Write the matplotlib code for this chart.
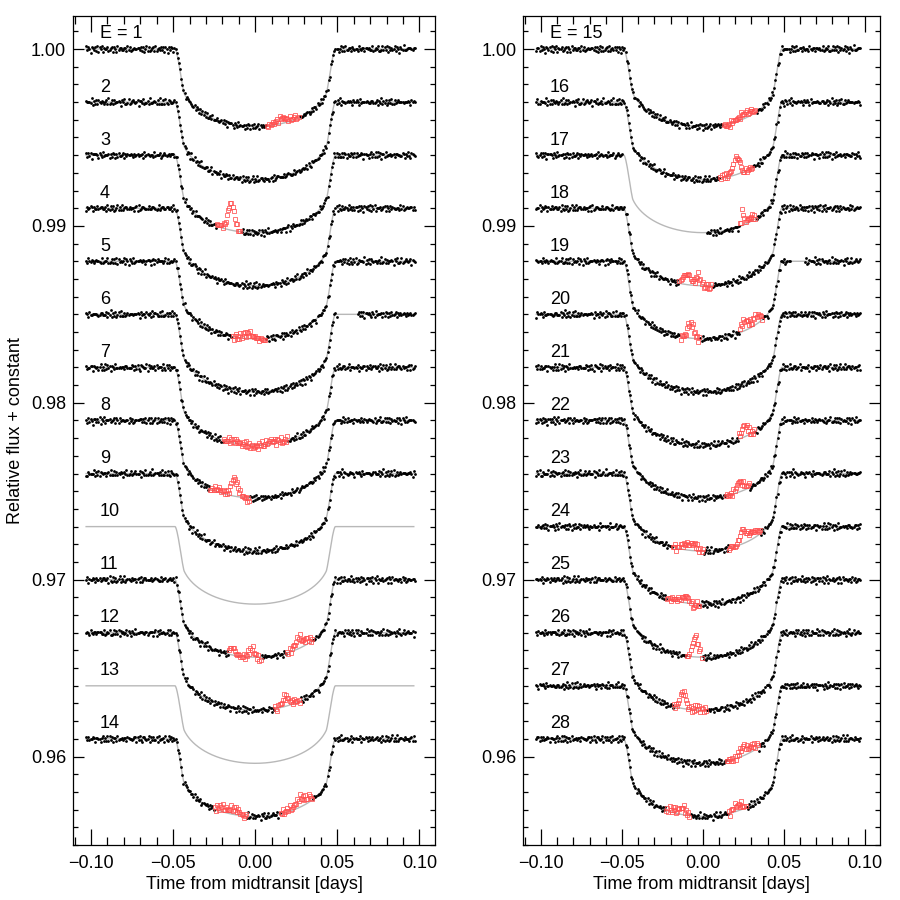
import numpy as np
import matplotlib
matplotlib.use("Agg")
import matplotlib.pyplot as plt
from matplotlib.ticker import MultipleLocator

# ---------------- data ----------------
epochs = list(range(1, 29))
offset_step = 0.003            # vertical offset between consecutive transits
rp_rs = 0.0590                 # planet/star radius ratio (depth ~0.0044)
impact = 0.10
t_contact = 0.0488             # first/last contact [days]
ld_u1, ld_u2 = 0.60, 0.05      # limb darkening
cadence = 0.000681             # days (short cadence)
t_first, t_last = -0.1030, 0.0976

no_data_epochs = [10, 13]
kept_ranges = {17: [(-0.2, -0.0495), (0.0023, 0.2)]}
gap_ranges = {6: [(0.050, 0.062)], 19: [(0.054, 0.0625)]}

# spot-crossing windows (red squares)
spot_windows = {
    1: [(0.0071, 0.0270)],
    3: [(-0.0235, -0.0090)],
    5: [(-0.0142, 0.0061)],
    7: [(-0.0195, 0.0201)],
    8: [(-0.0275, -0.0030)],
    11: [(-0.0165, 0.0035), (0.0195, 0.0346)],
    12: [(0.0120, 0.0274)],
    14: [(-0.0250, -0.0050), (0.0152, 0.0350)],
    15: [(0.0125, 0.0329)],
    16: [(0.0105, 0.0310)],
    17: [(0.0225, 0.0330)],
    18: [(-0.0150, 0.0054)],
    19: [(-0.0139, -0.0017), (0.0227, 0.0369)],
    21: [(0.0217, 0.0319)],
    22: [(0.0136, 0.0288)],
    23: [(-0.0190, 0.0003), (0.0156, 0.0359)],
    24: [(-0.0221, -0.0017)],
    25: [(-0.0099, -0.0007)],
    26: [(-0.0180, 0.0023)],
    27: [(0.0145, 0.0339)],
    28: [(-0.0231, -0.0078), (0.0156, 0.0267)],
}
# spot anomalies: (centre [d], amplitude [flux], width [d])
spot_bumps = {
    1: [(0.0160, 0.00030, 0.0035), (0.0245, 0.00012, 0.0015)],
    3: [(-0.0148, 0.00150, 0.0020), (-0.0215, 0.00012, 0.0015)],
    5: [(-0.0045, 0.00028, 0.0030), (0.0040, -0.00010, 0.0015)],
    7: [(-0.0130, 0.00012, 0.0030), (-0.0010, -0.00012, 0.0020), (0.0110, 0.00015, 0.0040)],
    8: [(-0.0127, 0.00100, 0.0020), (-0.0220, 0.00018, 0.0025), (-0.0045, -0.00008, 0.0012)],
    11: [(-0.0140, 0.00040, 0.0018), (-0.0020, 0.00050, 0.0015), (0.0020, -0.00012, 0.0012),
         (0.0264, 0.00060, 0.0022), (0.0315, 0.00025, 0.0015)],
    12: [(0.0183, 0.00055, 0.0020), (0.0240, 0.00010, 0.0020)],
    14: [(-0.0200, 0.00025, 0.0025), (-0.0128, 0.00035, 0.0025), (0.0200, 0.00012, 0.0020),
         (0.0274, 0.00055, 0.0025), (0.0325, 0.00030, 0.0015)],
    15: [(0.0155, -0.00010, 0.0015), (0.0265, 0.00030, 0.0045)],
    16: [(0.0207, 0.00100, 0.0020), (0.0125, 0.00010, 0.0020)],
    17: [(0.0245, 0.00085, 0.0006), (0.0290, 0.00025, 0.0025)],
    18: [(-0.0100, 0.00060, 0.0025), (-0.0030, 0.00050, 0.0015), (0.0035, -0.00010, 0.0012)],
    19: [(-0.0078, 0.00085, 0.0018), (0.0260, 0.00055, 0.0025), (0.0335, 0.00050, 0.0020)],
    21: [(0.0258, 0.00065, 0.0018)],
    22: [(0.0227, 0.00060, 0.0020), (0.0275, 0.00015, 0.0015)],
    23: [(-0.0100, 0.00035, 0.0030), (-0.0050, 0.00030, 0.0015), (0.0247, 0.00075, 0.0020),
         (0.0310, 0.00040, 0.0030)],
    24: [(-0.0109, 0.00035, 0.0022), (-0.0058, -0.00015, 0.0012), (-0.0170, 0.00010, 0.0020)],
    25: [(-0.0048, 0.00115, 0.0018)],
    26: [(-0.0123, 0.00095, 0.0018), (-0.0030, 0.00012, 0.0020)],
    27: [(0.0247, 0.00050, 0.0022), (0.0305, 0.00030, 0.0025)],
    28: [(-0.0127, 0.00040, 0.0020), (-0.0190, 0.00015, 0.0025), (0.0207, 0.00035, 0.0020),
         (0.0245, 0.00015, 0.0015)],
}
# point-to-point scatter pattern (units of 1e-5 flux)
scatter_a = [3, -8, 12, -2, -11, 6, 0, 9, -5, -13, 4, 10, -7, 2, -3, 14, -9, 5, -1,
             8, -12, 1, 7, -6, 11, -4, -10, 6, 3, -8, 13, -2, -7, 9, -1, 4, -5]
scatter_b = [-5, 7, -2, 9, -8, 1, 4, -10, 6, -3, 0, 8, -6, 3, -9, 5, -1, 10, -4, 2,
             -7, 6, -2]

# ---------------- transit model ----------------
_g = np.linspace(-1, 1, 31)
_gx, _gy = np.meshgrid(_g, _g)
_inside = _gx**2 + _gy**2 <= 1
_dx, _dy = _gx[_inside], _gy[_inside]
_mean_I = 1 - ld_u1 / 3 - ld_u2 / 6
_speed = np.sqrt((1 + rp_rs) ** 2 - impact ** 2) / t_contact


def transit(t):
    t = np.atleast_1d(t)
    px = (_speed * t)[:, None] + rp_rs * _dx[None, :]
    py = impact + rp_rs * _dy[None, :]
    r2 = px ** 2 + py ** 2
    mu = np.sqrt(np.clip(1 - r2, 0, None))
    inten = np.where(r2 < 1, 1 - ld_u1 * (1 - mu) - ld_u2 * (1 - mu) ** 2, 0.0)
    return 1 - rp_rs ** 2 * inten.mean(axis=1) / _mean_I


# ---------------- figure ----------------
plt.rcParams["font.family"] = ["Liberation Sans", "DejaVu Sans"]
plt.rcParams["font.size"] = 13
plt.rcParams["axes.linewidth"] = 0.9

fig = plt.figure(figsize=(9, 9), dpi=100)
axL = fig.add_axes([0.0811, 0.0611, 0.4022, 0.9214])
axR = fig.add_axes([0.5815, 0.0611, 0.3963, 0.9214])
axes = [axL, axR]

t_data = np.arange(t_first, t_last, cadence)
t_line = np.linspace(t_first, t_last - 0.001, 800)
model_data = transit(t_data)
model_line = transit(t_line)

na, nb = len(scatter_a), len(scatter_b)
grey = "#b8b8b8"
red = "#ff5050"

for k in epochs:
    ax = axes[0] if k <= 14 else axes[1]
    idx = (k - 1) % 14
    base = 1.0 - offset_step * idx
    ax.plot(t_line, base + model_line - 1, color=grey, lw=1.0, zorder=1)
    label = f"E = {k}" if idx == 0 else str(k)
    ax.text(-0.0945, base + 0.00085, label, ha="left", va="center", fontsize=13)
    if k in no_data_epochs:
        continue
    j = np.arange(len(t_data))
    noise = np.array([scatter_a[(i + 5 * k) % na] + scatter_b[(i + 3 * k) % nb]
                      for i in j]) * 1e-5
    bump = np.zeros_like(t_data)
    for (c, a, w) in spot_bumps.get(k, []):
        bump += a * np.exp(-0.5 * ((t_data - c) / w) ** 2)
    flux = base + model_data - 1 + noise
    keep = np.ones_like(t_data, dtype=bool)
    if k in kept_ranges:
        keep[:] = False
        for (a, b) in kept_ranges[k]:
            keep |= (t_data >= a) & (t_data <= b)
    for (a, b) in gap_ranges.get(k, []):
        keep &= ~((t_data >= a) & (t_data <= b))
    spot = np.zeros_like(keep)
    for (a, b) in spot_windows.get(k, []):
        spot |= (t_data >= a) & (t_data <= b)
    black = keep & ~spot
    redm = keep & spot
    ax.plot(t_data[black], flux[black], "o", ms=2.0, color="black", mew=0, zorder=3)
    ax.plot(t_data[redm], flux[redm] + bump[redm], "s", ms=2.4, mfc="none",
            mec=red, mew=0.55, zorder=4)

for i, ax in enumerate(axes):
    ax.set_xlim(-0.111, 0.1095)
    ax.set_ylim(0.9550, 1.00188)
    ax.ticklabel_format(useOffset=False)
    ax.xaxis.set_major_locator(MultipleLocator(0.05))
    ax.xaxis.set_minor_locator(MultipleLocator(0.01))
    ax.yaxis.set_major_locator(MultipleLocator(0.01))
    ax.yaxis.set_minor_locator(MultipleLocator(0.001))
    ax.tick_params(which="both", direction="in", top=True, right=True, width=0.9,
                   labelsize=13)
    ax.tick_params(axis="x", which="major", length=11.5, pad=7)
    ax.tick_params(axis="x", which="minor", length=5.8)
    ax.tick_params(axis="y", which="major", length=8, pad=5)
    ax.tick_params(axis="y", which="minor", length=3.6)
    ax.set_xlabel("Time from midtransit [days]", fontsize=13, labelpad=3)

axL.set_ylabel("Relative flux + constant", fontsize=13, labelpad=5)

fig.savefig("out.png", dpi=100)
